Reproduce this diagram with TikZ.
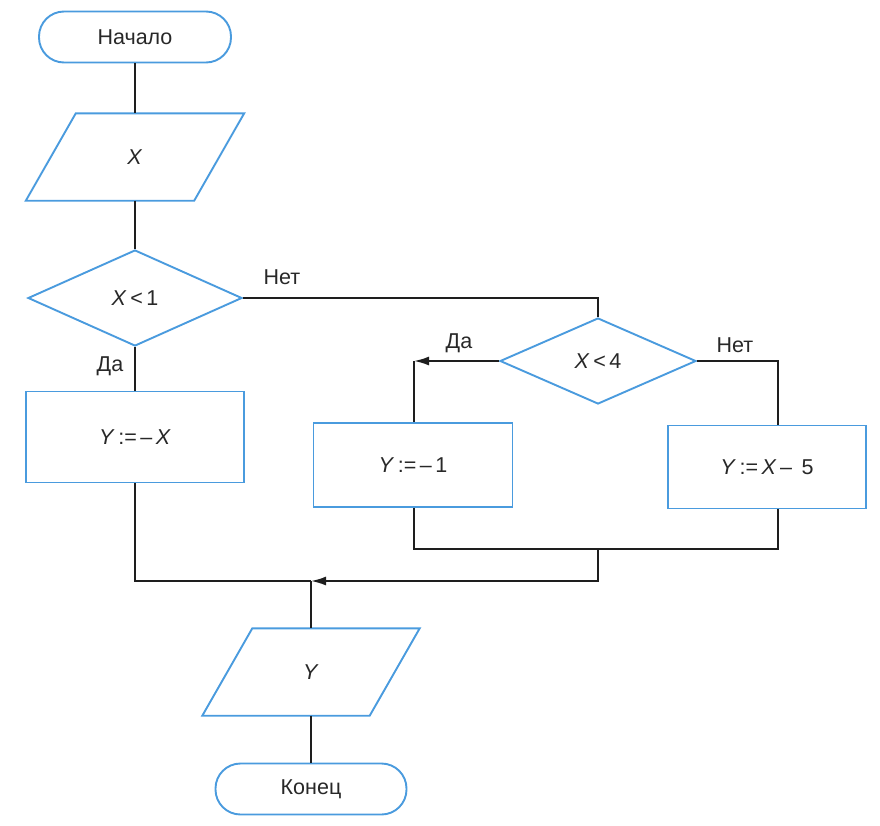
\documentclass[tikz,border=0pt]{standalone}
\usepackage{fontspec}
\setmainfont{Liberation Sans}
\usetikzlibrary{arrows.meta,shapes.geometric}
\definecolor{flowblue}{RGB}{74,155,222}
\definecolor{conn}{RGB}{30,30,30}
\definecolor{txt}{RGB}{40,40,40}
\begin{document}
\begin{tikzpicture}[x=1pt,y=-1pt,font=\fontsize{21.5}{25}\selectfont,text=txt,
  blk/.style={draw=flowblue,line width=1.9pt,fill=white,inner sep=0pt},
  term/.style={blk,rectangle,rounded corners=25pt,minimum width=192pt,minimum height=51pt},
  proc/.style={blk,rectangle},
  dec/.style={blk,diamond},
  io/.style={rectangle,inner sep=0pt,minimum width=168pt,minimum height=87pt},
  para/.style={draw=flowblue,line width=1.9pt,line join=miter},
  line/.style={draw=conn,line width=1.8pt},
  arr/.style={line,-{Latex[length=15pt,width=9pt]}},
  lbl/.style={inner sep=0pt}]
\useasboundingbox (0,0) rectangle (880,825);

% nodes
\node[term] (start) at (135,37) {Начало};
\node[io] (inX) at (135,157) {\textit{X}};
\draw[para] ([xshift=25pt]inX.north west) -- ([xshift=25pt]inX.north east) -- ([xshift=-25pt]inX.south east) -- ([xshift=-25pt]inX.south west) -- cycle;
\node[dec,minimum width=214pt,minimum height=96pt] (d1) at (135,298) {\textit{X}\,<\,1};
\node[proc,minimum width=218pt,minimum height=91pt] (b1) at (135,437) {\textit{Y}\,:=\,–\,\textit{X}};
\node[dec,minimum width=196pt,minimum height=86pt] (d2) at (598,361) {\textit{X}\,<\,4};
\node[proc,minimum width=199pt,minimum height=84pt] (b2) at (413,465) {\textit{Y}\,:=\,–\,1};
\node[proc,minimum width=198pt,minimum height=83pt] (b3) at (767,467) {\textit{Y}\,:=\,\textit{X}\,–\;\,5};
\node[io,minimum width=167pt] (out) at (311,672) {\textit{Y}};
\draw[para] ([xshift=25pt]out.north west) -- ([xshift=25pt]out.north east) -- ([xshift=-25pt]out.south east) -- ([xshift=-25pt]out.south west) -- cycle;
\node[term,minimum width=191pt] (end) at (311,789) {Конец};

% labels
\node[lbl] (no1) at (282,277) {Нет};
\node[lbl] (yes1) at (110,366) {Да};
\node[lbl] (yes2) at (459,343) {Да};
\node[lbl] (no2) at (735,345) {Нет};

% coordinates
\coordinate (cL) at (414,361);
\coordinate (cR) at (778,361);
\coordinate (bl) at (414,549);
\coordinate (br) at (778,549);
\coordinate (jR) at (598,549);
\coordinate (m) at (311,581);

% connectors
\draw[line] (start.south) -- (inX.north);
\draw[line] (inX.south) -- (d1.north);
\draw[line] (d1.east) -| (d2.north);
\draw[line] (d1.south) -- (b1.north);
\draw[arr] (d2.west) -- (cL);
\draw[line] (cL) -- (cL |- b2.north);
\draw[line] (d2.east) -- (cR) -- (cR |- b3.north);
\draw[line] (cL |- b2.south) -- (bl) -- (br) -- (cR |- b3.south);
\draw[line] (b1.south) |- (m);
\draw[arr] (jR) |- (m);
\draw[line] (m) -- (out.north);
\draw[line] (out.south) -- (end.north);
\end{tikzpicture}
\end{document}
